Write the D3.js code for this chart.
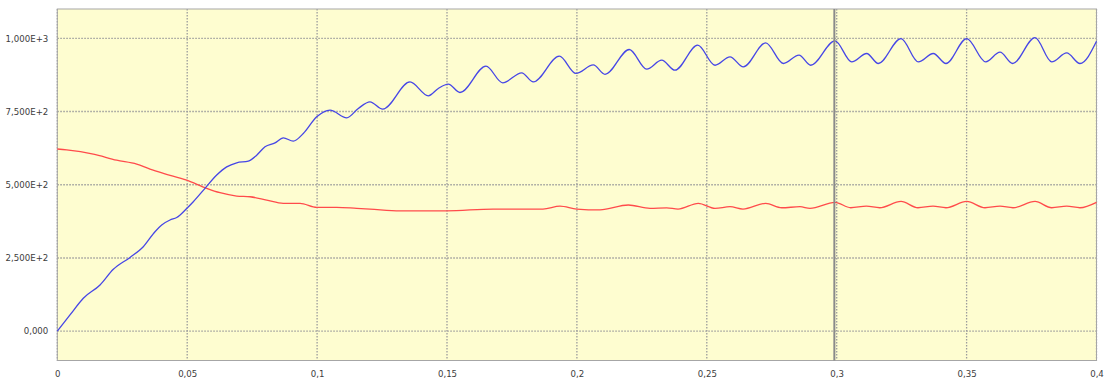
<!DOCTYPE html>
<html>
<head>
<meta charset="utf-8">
<script src="https://cdn.jsdelivr.net/npm/d3@7/dist/d3.min.js"></script>
<style>
  html, body { margin: 0; padding: 0; background: #ffffff; }
  svg { display: block; }
</style>
</head>
<body>
<svg id="chart" width="1104" height="382"></svg>
<script>
// Time axis ticks (s) and their comma-decimal labels
const xTicks = [0, 0.05, 0.1, 0.15, 0.2, 0.25, 0.3, 0.35, 0.4];
const xTickLabels = ["0", "0,05", "0,1", "0,15", "0,2", "0,25", "0,3", "0,35", "0,4"];

// Value axis ticks and labels
const yTicks = [0, 250, 500, 750, 1000];
const yTickLabels = ["0,000", "2,500E+2", "5,000E+2", "7,500E+2", "1,000E+3"];

// Blue trace: rises from zero and settles into a periodic ripple near 950
const blueTime = [
  0, 0.00489, 0.01001, 0.01644, 0.02156, 0.02798, 0.0331, 0.0376, 0.04018, 0.04338,
  0.04596, 0.04981, 0.05235, 0.05685, 0.06136, 0.0652, 0.06905, 0.07352, 0.07675, 0.07995,
  0.0838, 0.08699, 0.09084, 0.09469, 0.09985, 0.10497, 0.1114, 0.11586, 0.12036, 0.12525,
  0.13576, 0.1428, 0.14665, 0.1505, 0.155, 0.16501, 0.17144, 0.17875, 0.18322, 0.19323,
  0.19965, 0.20631, 0.21082, 0.22017, 0.22687, 0.23264, 0.23776, 0.2465, 0.25316, 0.25893,
  0.26405, 0.27267, 0.27945, 0.28549, 0.28999, 0.29935, 0.30577, 0.31155, 0.31601, 0.32475,
  0.33141, 0.33718, 0.34207, 0.35004, 0.35735, 0.36286, 0.36774, 0.37633, 0.38276, 0.38853,
  0.39365, 0.4
];
const blueValues = [
  0, 55.6, 112.6, 158, 211.5, 252, 288.5, 339.7, 362.6, 379.6,
  388, 419, 442, 487.7, 533, 561, 575, 580.8, 601, 629.6,
  643, 660, 649, 675, 732, 755, 728.5, 760.5, 783, 758,
  851, 803.6, 828.7, 843.5, 815, 904.8, 848, 882, 851, 939,
  880, 909, 877, 961.8, 894.6, 925.3, 891, 976.5, 908, 936.6,
  902.5, 984.3, 914, 942.4, 908, 991, 919.5, 948, 914, 999,
  919.5, 948, 914, 999, 919.5, 952.6, 914, 1002, 919.5, 950,
  914, 990
];

// Red trace: falls from about 620 and levels off near 425 with a small ripple
const redTime = [
  0, 0.00362, 0.01386, 0.02286, 0.03056, 0.03568, 0.0408, 0.04981, 0.05751, 0.06263,
  0.06905, 0.07417, 0.0806, 0.08699, 0.09342, 0.09985, 0.10755, 0.11524, 0.12036, 0.13191,
  0.14989, 0.16771, 0.18695, 0.19349, 0.19992, 0.20889, 0.21979, 0.22814, 0.23457, 0.23892,
  0.24673, 0.25316, 0.25893, 0.26393, 0.27267, 0.27883, 0.28588, 0.28972, 0.29935, 0.30539,
  0.31143, 0.31655, 0.32475, 0.33129, 0.33707, 0.34207, 0.35004, 0.35708, 0.36286, 0.36786,
  0.37633, 0.38276, 0.38853, 0.39365, 0.4
];
const redValues = [
  622, 619, 604.7, 584, 570.6, 553.6, 539, 516, 487.7, 472.7,
  461.5, 459, 447.8, 436.6, 436.6, 423, 423, 419.5, 417, 411,
  411, 417, 417, 427, 417, 414, 430.8, 419.5, 421, 417,
  436.6, 419.5, 425, 417, 436.6, 421.5, 425, 419.5, 440, 421.5,
  427, 421.5, 443, 421.5, 427, 421.5, 443, 421.5, 427, 421.5,
  443, 421.5, 427, 421.5, 440
];

// Position of the vertical cursor
const cursorTime = [0.2991];

const svg = d3.select("#chart");
const plot = { left: 57.3, right: 1096.5, top: 9, bottom: 360.5 };

const x = d3.scaleLinear().domain([0, 0.4]).range([plot.left, plot.right]);
const y = d3.scaleLinear().domain([-100, 1100]).range([plot.bottom, plot.top]);

// Plot background
svg.append("rect")
  .attr("x", plot.left).attr("y", plot.top)
  .attr("width", plot.right - plot.left).attr("height", plot.bottom - plot.top)
  .attr("fill", "#fefdd0");

// Dotted grid
const grid = svg.append("g").attr("stroke", "#9c9c9c").attr("stroke-width", 1.3)
  .attr("stroke-dasharray", "1.5,1.5");
grid.selectAll("line.v").data(xTicks).join("line").attr("class", "v")
  .attr("x1", d => x(d)).attr("x2", d => x(d))
  .attr("y1", plot.top).attr("y2", plot.bottom);
grid.selectAll("line.h").data(yTicks).join("line").attr("class", "h")
  .attr("x1", plot.left).attr("x2", plot.right)
  .attr("y1", d => y(d)).attr("y2", d => y(d));

// Frame
svg.append("rect")
  .attr("x", plot.left).attr("y", plot.top)
  .attr("width", plot.right - plot.left).attr("height", plot.bottom - plot.top)
  .attr("fill", "none").attr("stroke", "#a6a6a6").attr("stroke-width", 1);

// Axes built from the scales, drawn as labels only
const xAxis = d3.axisBottom(x).tickValues(xTicks)
  .tickFormat((d, i) => xTickLabels[i]).tickSize(0).tickPadding(0);
const gx = svg.append("g").attr("transform", `translate(0, ${plot.bottom + 10})`).call(xAxis);
const yAxis = d3.axisLeft(y).tickValues(yTicks)
  .tickFormat((d, i) => yTickLabels[i]).tickSize(0).tickPadding(0);
const gy = svg.append("g").attr("transform", `translate(${plot.left - 9}, 0)`).call(yAxis);
[gx, gy].forEach(g => {
  g.select(".domain").remove();
  g.selectAll("text")
    .attr("font-family", "'DejaVu Sans', Verdana, sans-serif")
    .attr("font-size", "8.6px")
    .attr("fill", "#3c3c3c");
});

// Traces
const lineGen = d3.line().curve(d3.curveMonotoneX).x(d => x(d[0])).y(d => y(d[1]));
const redData = redTime.map((t, i) => [t, redValues[i]]);
const blueData = blueTime.map((t, i) => [t, blueValues[i]]);

svg.append("path").datum(redData)
  .attr("d", lineGen).attr("fill", "none")
  .attr("stroke", "#ff4b4b").attr("stroke-width", 1.3).attr("stroke-linejoin", "round");
svg.append("path").datum(blueData)
  .attr("d", lineGen).attr("fill", "none")
  .attr("stroke", "#4646e6").attr("stroke-width", 1.3).attr("stroke-linejoin", "round");

// Cursor
svg.selectAll("line.cursor").data(cursorTime).join("line").attr("class", "cursor")
  .attr("x1", d => x(d)).attr("x2", d => x(d))
  .attr("y1", plot.top).attr("y2", plot.bottom)
  .attr("stroke", "#8a8a8a").attr("stroke-width", 2);
</script>
</body>
</html>
